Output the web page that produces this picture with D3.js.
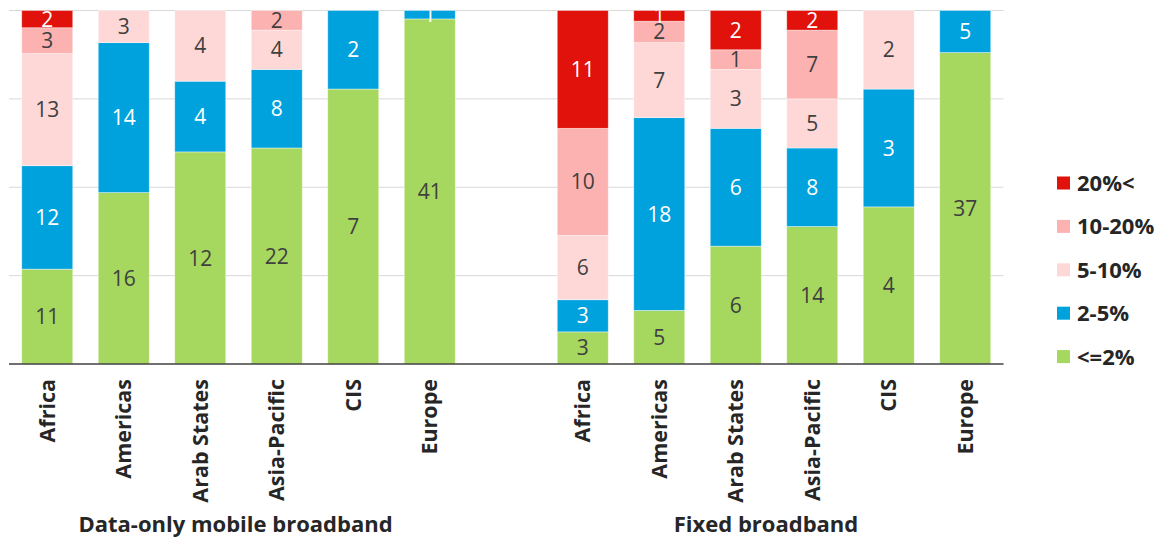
<!DOCTYPE html>
<html>
<head>
<meta charset="utf-8">
<script src="https://cdn.jsdelivr.net/npm/d3@7"></script>
<style>
  html, body { margin: 0; padding: 0; background: #fff; }
  svg { display: block; font-family: "Open Sans", Lato, sans-serif; }
</style>
</head>
<body>
<svg id="chart" width="1169" height="540"></svg>
<script>
// Regions shown in each group
const regions = ["Africa", "Americas", "Arab States", "Asia-Pacific", "CIS", "Europe"];
const groups = ["Data-only mobile broadband", "Fixed broadband"];

// Price bands, bottom to top of each bar
const bands = ["<=2%", "2-5%", "5-10%", "10-20%", "20%<"];
const bandColors = ["#a6d75f", "#00a2de", "#fed7d7", "#fdb2b2", "#e0120b"];
const bandTextColors = ["#404040", "#ffffff", "#404040", "#404040", "#ffffff"];

// Number of economies per band, one array per band, ordered like `regions`
const mobileLe2   = [11, 16, 12, 22, 7, 41];
const mobile2to5  = [12, 14, 4, 8, 2, 1];
const mobile5to10 = [13, 3, 4, 4, 0, 0];
const mobile10to20 = [3, 0, 0, 2, 0, 0];
const mobileGt20  = [2, 0, 0, 0, 0, 0];

const fixedLe2    = [3, 5, 6, 14, 4, 37];
const fixed2to5   = [3, 18, 6, 8, 3, 5];
const fixed5to10  = [6, 7, 3, 5, 2, 0];
const fixed10to20 = [10, 2, 1, 7, 0, 0];
const fixedGt20   = [11, 1, 2, 2, 0, 0];

const yTicks = [0.25, 0.5, 0.75, 1];

const seriesByGroup = [
  [mobileLe2, mobile2to5, mobile5to10, mobile10to20, mobileGt20],
  [fixedLe2, fixed2to5, fixed5to10, fixed10to20, fixedGt20]
];

// Build one row per bar, plus an empty slot separating the two groups
const rows = [];
groups.forEach((g, gi) => {
  regions.forEach((r, ri) => {
    const row = { key: gi + "|" + r, region: r, group: g };
    bands.forEach((b, bi) => { row[b] = seriesByGroup[gi][bi][ri]; });
    rows.push(row);
  });
  if (gi === 0) rows.push({ key: "gap", region: "", group: "", empty: true });
});
const barRows = rows.filter(d => !d.empty);

const svg = d3.select("#chart");
const plotLeft = 9, plotRight = 1003.5, plotTop = 10.5, plotBottom = 364;

const x = d3.scaleBand()
  .domain(rows.map(d => d.key))
  .range([plotLeft, plotRight])
  .paddingInner(1 / 3)
  .paddingOuter(1 / 6);

const y = d3.scaleLinear().domain([0, 1]).range([plotBottom, plotTop]);
const color = d3.scaleOrdinal().domain(bands).range(bandColors);
const textColor = d3.scaleOrdinal().domain(bands).range(bandTextColors);

// Share of each band within its bar
const stacked = d3.stack()
  .keys(bands)
  .offset(d3.stackOffsetExpand)(barRows);

// Gridlines
svg.append("g")
  .selectAll("line")
  .data(yTicks)
  .join("line")
  .attr("x1", plotLeft).attr("x2", plotRight)
  .attr("y1", d => y(d)).attr("y2", d => y(d))
  .attr("stroke", "#d9d9d9")
  .attr("stroke-width", 1);

svg.append("defs").append("clipPath").attr("id", "plot-clip")
  .append("rect")
  .attr("x", plotLeft).attr("y", plotTop)
  .attr("width", plotRight - plotLeft).attr("height", plotBottom - plotTop);

// Bars
const layers = svg.append("g")
  .selectAll("g")
  .data(stacked)
  .join("g")
  .attr("fill", d => color(d.key));

layers.selectAll("rect")
  .data(d => d)
  .join("rect")
  .attr("x", d => x(d.data.key))
  .attr("width", x.bandwidth())
  .attr("y", d => y(d[1]))
  .attr("height", d => Math.max(0, y(d[0]) - y(d[1])))
  .attr("stroke", "#ffffff")
  .attr("stroke-opacity", 0.5)
  .attr("stroke-width", 0.8);

// Value labels centred in each segment
const labelG = svg.append("g").attr("clip-path", "url(#plot-clip)");
stacked.forEach(layer => {
  labelG.append("g")
    .selectAll("text")
    .data(layer.filter(d => d.data[layer.key] > 0))
    .join("text")
    .attr("x", d => x(d.data.key) + x.bandwidth() / 2)
    .attr("y", d => (y(d[0]) + y(d[1])) / 2)
    .attr("dy", "0.36em")
    .attr("text-anchor", "middle")
    .attr("font-size", 21)
    .attr("font-weight", 400)
    .attr("fill", textColor(layer.key))
    .text(d => d.data[layer.key]);
});

// Baseline
svg.append("line")
  .attr("x1", plotLeft).attr("x2", plotRight)
  .attr("y1", plotBottom).attr("y2", plotBottom)
  .attr("stroke", "#404040")
  .attr("stroke-width", 1.5);

// Region labels, rotated
svg.append("g")
  .selectAll("text")
  .data(barRows)
  .join("text")
  .attr("transform", d => `translate(${x(d.key) + x.bandwidth() / 2 + 7.5},${plotBottom + 15}) rotate(-90)`)
  .attr("text-anchor", "end")
  .attr("font-size", 21.5)
  .attr("font-weight", 700)
  .attr("fill", "#262626")
  .text(d => d.region);

// Group labels
const groupShift = [-3, -8];
groups.forEach((g, gi) => {
  const keys = regions.map(r => gi + "|" + r);
  const cx = (x(keys[0]) + x(keys[keys.length - 1]) + x.bandwidth()) / 2 + groupShift[gi];
  svg.append("text")
    .attr("x", cx)
    .attr("y", 532)
    .attr("text-anchor", "middle")
    .attr("font-size", 22)
    .attr("font-weight", 700)
    .attr("fill", "#262626")
    .text(g);
});

// Legend, top band first
const legendItems = bands.slice().reverse();
const legend = svg.append("g")
  .selectAll("g")
  .data(legendItems)
  .join("g")
  .attr("transform", (d, i) => `translate(1057,${183 + i * 43.4})`);

legend.append("rect")
  .attr("x", 0).attr("y", -6.5)
  .attr("width", 13).attr("height", 13)
  .attr("fill", d => color(d));

legend.append("text")
  .attr("x", 20)
  .attr("y", 0)
  .attr("dy", "0.36em")
  .attr("font-size", 22)
  .attr("font-weight", 700)
  .attr("fill", "#262626")
  .text(d => d);
</script>
</body>
</html>
